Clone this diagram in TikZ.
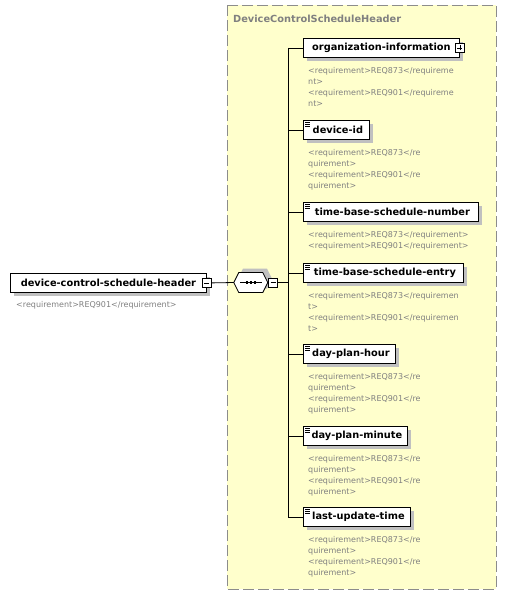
\documentclass[tikz,border=0pt]{standalone}
\usepackage{fontspec}
\setmainfont{DejaVu Sans}
\usetikzlibrary{shadows}
\definecolor{grpfill}{HTML}{FFFFCC}
\definecolor{grpline}{HTML}{8C8C8C}
\definecolor{shadowgray}{HTML}{C0C0C0}
\definecolor{anngray}{HTML}{808080}
\newcommand{\elemfont}{\fontsize{9.8pt}{11pt}\selectfont\bfseries}
\newcommand{\annfont}{\fontsize{8pt}{11pt}\selectfont}
\tikzset{
  elem/.style={draw=black, fill=white, line width=0.8pt, minimum height=19pt, inner sep=0pt,
    font=\elemfont, anchor=north west,
    drop shadow={shadow xshift=4pt, shadow yshift=-4pt, fill=shadowgray, opacity=1}},
  ann/.style={font=\annfont, text=anngray, align=left, anchor=north west, inner sep=0pt},
  togglebox/.style={draw=black, fill=white, line width=0.6pt, minimum size=9pt, inner sep=0pt},
  wire/.style={draw=black, line width=0.8pt},
}
\newcommand{\minussign}[1]{\draw[line width=0.6pt] ([xshift=-2.5pt]#1.center) -- ([xshift=2.5pt]#1.center);}
\newcommand{\plussign}[1]{\draw[line width=0.6pt] ([xshift=-2.5pt]#1.center) -- ([xshift=2.5pt]#1.center) ([yshift=-2.5pt]#1.center) -- ([yshift=2.5pt]#1.center);}
\newcommand{\docicon}[1]{\draw[line width=0.5pt] ([xshift=2pt,yshift=-2.5pt]#1.north west) -- ++(5pt,0) ([xshift=2pt,yshift=-4.5pt]#1.north west) -- ++(5pt,0) ([xshift=2pt,yshift=-6.5pt]#1.north west) -- ++(5pt,0);}
\begin{document}
\begin{tikzpicture}[x=1pt,y=-1pt]
\useasboundingbox[fill=white] (0,0) rectangle (506,595);
% group box
\draw[grpline, fill=grpfill, line width=1pt, dash pattern=on 11pt off 4pt] (227,5) rectangle (496,589);
\node[font=\elemfont, text=anngray, anchor=base west, inner sep=0pt] (title) at (233,22) {DeviceControlScheduleHeader};

% main element
\node[elem, minimum width=196pt] (main) at (10,273) {device-control-schedule-header};
\node[togglebox] (mainminus) at (main.east) {};
\minussign{mainminus}
\node[ann, anchor=base west] (mainann) at (16,307) {<requirement>REQ901</requirement>};

% sequence compositor
\coordinate (sq) at (251,282.5);
\fill[shadowgray] ([xshift=4pt,yshift=4pt]sq) ++(-17,0) -- ++(5,-10) -- ++(24,0) -- ++(5,10) -- ++(-5,10) -- ++(-24,0) -- cycle;
\node[draw=none, minimum width=34pt, minimum height=20pt, inner sep=0pt] (seq) at (sq) {};
\draw[black, fill=white, line width=0.8pt] (seq.west) -- ++(5,-10) -- ++(24,0) -- ++(5,10) -- ++(-5,10) -- ++(-24,0) -- cycle;
\draw[line width=0.8pt] ([xshift=-11pt]seq.center) -- ([xshift=11pt]seq.center);
\foreach \dx in {-4,0,4} \fill ([xshift=\dx pt]seq.center) ++(-1.3,-1.3) rectangle ++(2.6,2.6);
\node[togglebox, anchor=west] (seqminus) at (seq.east) {};
\minussign{seqminus}
\draw[wire] (mainminus.east) -- (seq.west);

% children
\node[elem, minimum width=156pt] (org) at (303,38) {organization-information};
\node[togglebox] (orgplus) at (org.east) {};
\plussign{orgplus}
\node[ann] (organn) at (308,67) {<requirement>REQ873</requireme\\nt>\\<requirement>REQ901</requireme\\nt>};

\node[elem, minimum width=66pt] (devid) at (303,120) {\hspace*{3pt}device-id};
\docicon{devid}
\node[ann] (devidann) at (308,149) {<requirement>REQ873</re\\quirement>\\<requirement>REQ901</re\\quirement>};

\node[elem, minimum width=175pt] (tbsn) at (303,202) {\hspace*{3pt}time-base-schedule-number};
\docicon{tbsn}
\node[ann] (tbsnann) at (308,231) {<requirement>REQ873</requirement>\\<requirement>REQ901</requirement>};

\node[elem, minimum width=160pt] (tbse) at (303,263) {\hspace*{3pt}time-base-schedule-entry};
\docicon{tbse}
\node[ann] (tbseann) at (308,292) {<requirement>REQ873</requiremen\\t>\\<requirement>REQ901</requiremen\\t>};

\node[elem, minimum width=92pt] (dph) at (303,344) {\hspace*{3pt}day-plan-hour};
\docicon{dph}
\node[ann] (dphann) at (308,373) {<requirement>REQ873</re\\quirement>\\<requirement>REQ901</re\\quirement>};

\node[elem, minimum width=104pt] (dpm) at (303,426) {\hspace*{3pt}day-plan-minute};
\docicon{dpm}
\node[ann] (dpmann) at (308,455) {<requirement>REQ873</re\\quirement>\\<requirement>REQ901</re\\quirement>};

\node[elem, minimum width=107pt] (lut) at (303,507) {\hspace*{3pt}last-update-time};
\docicon{lut}
\node[ann] (lutann) at (308,536) {<requirement>REQ873</re\\quirement>\\<requirement>REQ901</re\\quirement>};

% connectors
\coordinate (bus) at (288,282.5);
\draw[wire] (seqminus.east) -- (bus);
\draw[wire] (bus |- org.west) -- (bus |- lut.west);
\foreach \n in {org,devid,tbsn,tbse,dph,dpm,lut}
  \draw[wire] (bus |- \n.west) -- (\n.west);
\end{tikzpicture}
\end{document}
